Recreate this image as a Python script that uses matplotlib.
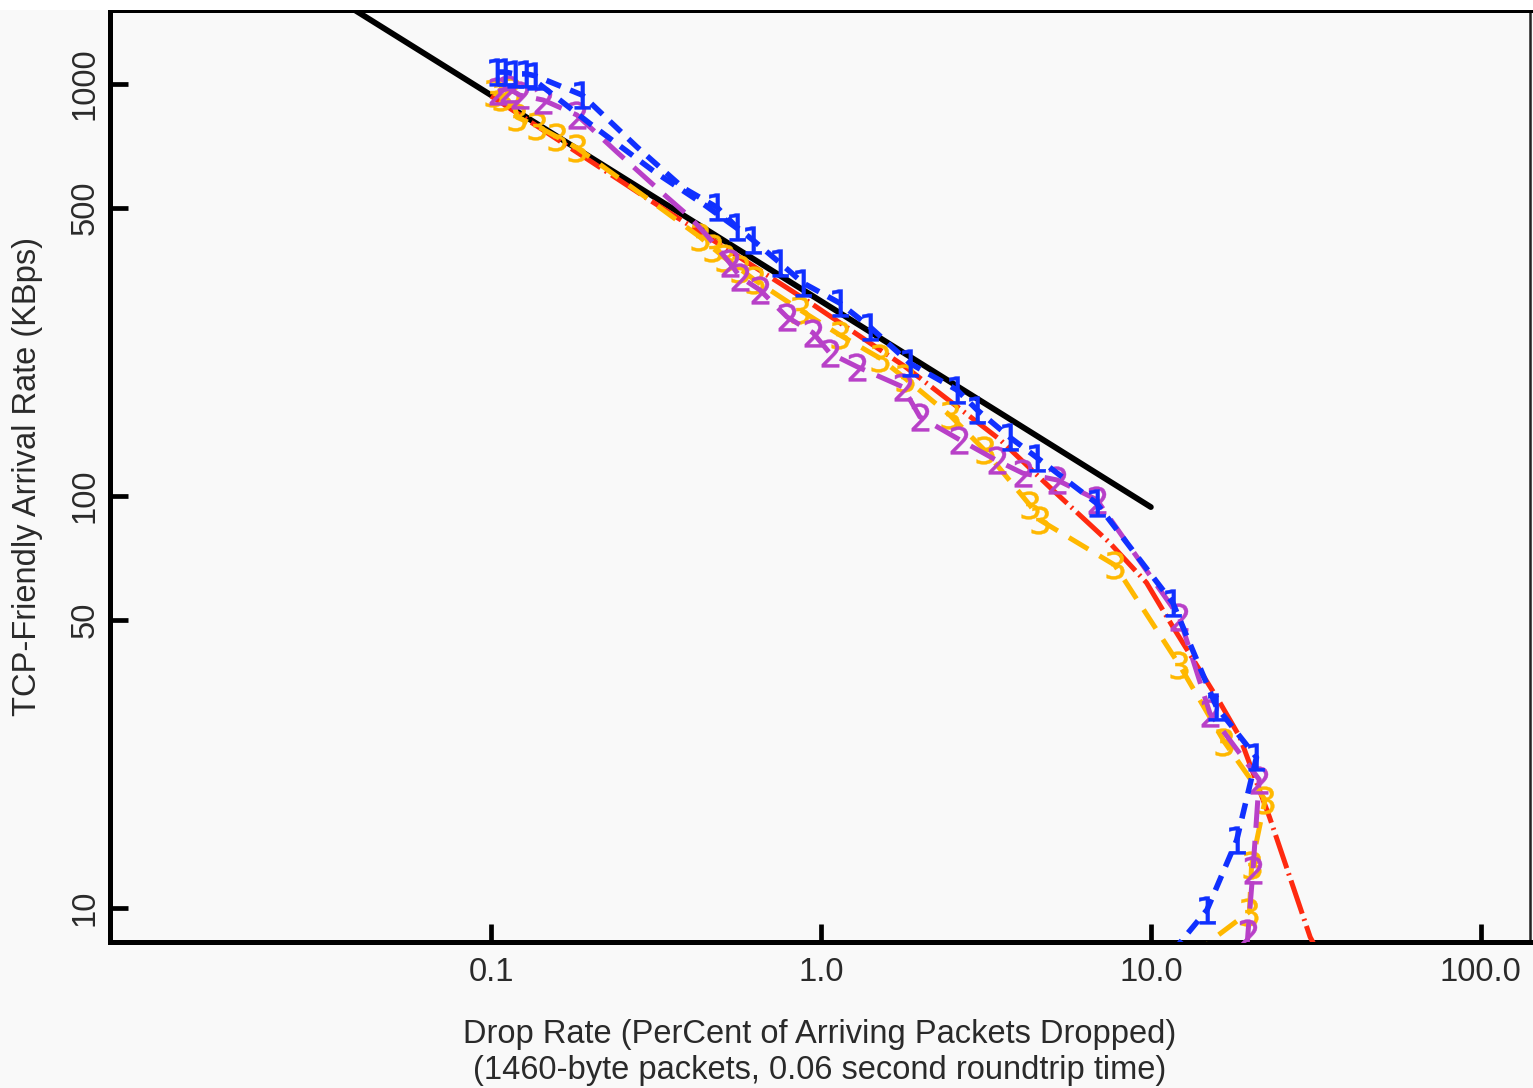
"""
TCP-friendly arrival rate vs drop rate, log-log.
"""
import matplotlib
matplotlib.use('Agg')
import matplotlib.pyplot as plt
from matplotlib.patches import Rectangle

plt.rcParams['font.family'] = ['Liberation Sans', 'DejaVu Sans']

# simple TCP formula (straight line on log-log)
tcp_x = [0.03, 10.0]
tcp_y = [1715, 94]

# fuller formula with timeouts
full_x = [0.1, 0.2, 0.3, 0.5, 0.93, 1.8, 3.49, 4.94, 7.5, 9.7, 11.65, 16.2, 18.6, 22.9, 30.4, 33.0]
full_y = [935, 650, 525, 405, 294, 206, 137, 105, 77, 61.6, 48.2, 31.5, 26.0, 16.6, 8.5, 7.5]

# run 1 (blue)
run1_x = [0.104, 0.110, 0.118, 0.128, 0.136, 0.189, 0.277, 0.382, 0.484, 0.556, 0.622, 0.751,
          0.882, 1.14, 1.41, 1.86, 2.58, 2.97, 3.73, 4.51, 6.85, 11.66, 15.8, 20.9, 18.2, 14.8,
          12.2, 11.5]
run1_y = [1069, 1069, 1058, 1058, 1047, 940, 703, 560, 502, 449, 418, 368,
          329, 294, 257, 210, 181, 162, 139, 124, 96, 55, 30.8, 23.2, 14.6, 9.9,
          8.2, 7.6]
run1_marks = [0, 1, 2, 3, 4, 5, 8, 9, 10, 11, 12, 13, 14, 15, 16, 17, 18, 19, 20, 21, 22, 23, 24, 25]

run1b_x = [0.14, 0.2, 0.314, 0.445, 0.56]
run1b_y = [1000, 800, 611, 508, 445]

# run 2 (magenta)
run2_x = [0.105, 0.113, 0.122, 0.144, 0.182, 0.241, 0.341, 0.401, 0.45, 0.529, 0.569, 0.654,
          0.789, 0.946, 1.065, 1.286, 1.77, 1.995, 2.63, 3.41, 4.09, 5.19, 6.85, 12.2,
          15.1, 21.3, 20.4, 19.7, 19.5]
run2_y = [960, 975, 940, 914, 841, 683, 532, 475, 430, 368, 340, 316,
          272, 249, 222, 206, 184, 155.6, 137, 122, 113.6, 109.4, 98, 50.8,
          29.7, 20.5, 12.4, 8.7, 7.8]
run2_marks = [0, 1, 2, 3, 4, 9, 10, 11, 12, 13, 14, 15, 16, 17, 18, 19, 20, 21, 22, 23, 24, 25, 26, 27]

# run 3 (orange)
run3_x = [0.102, 0.108, 0.115, 0.120, 0.138, 0.158, 0.182, 0.3, 0.430, 0.470, 0.512, 0.57,
          0.631, 0.864, 1.14, 1.51, 1.80, 2.46, 3.14, 4.30, 4.61, 7.77, 12.2, 16.7, 22.2,
          20.2, 19.9, 15.1, 14.0]
run3_y = [950, 930, 960, 830, 790, 745, 700, 525, 425, 400, 378, 355,
          334, 283, 246, 216, 193, 157, 129, 95, 87.4, 68, 38.9, 25.3, 18.3,
          12.7, 9.8, 8.3, 7.6]
run3_marks = [0, 1, 2, 3, 4, 5, 6, 8, 9, 10, 11, 12, 13, 14, 15, 16, 17, 18, 19, 20, 21, 22, 23, 24, 25, 26]

xticks = [0.1, 1.0, 10.0, 100.0]
xticklabels = ['0.1', '1.0', '10.0', '100.0']
yticks = [10, 50, 100, 500, 1000]
yticklabels = ['10', '50', '100', '500', '1000']

BLUE = '#1030ff'
MAGENTA = '#b840c8'
ORANGE = '#ffb800'
RED = '#ff2a10'
TXT = '#2a2a2a'
FS = 23.5

fig = plt.figure(figsize=(15.33, 10.88), dpi=100, facecolor='#f9f9f9')
ax = fig.add_axes([110 / 1533, 146 / 1088, 1420 / 1533, 932 / 1088])
ax.set_facecolor('#f9f9f9')
fig.add_artist(Rectangle((0, 1 - 10 / 1088), 1, 10 / 1088, transform=fig.transFigure,
                         facecolor='white', edgecolor='none'))

ax.plot(tcp_x, tcp_y, color='black', lw=4.2, solid_capstyle='round', zorder=2)

l, = ax.plot(full_x, full_y, color=RED, lw=3.6, zorder=3)
l.set_dashes([7, 1.1, 0.4, 1.1])

l, = ax.plot(run3_x, run3_y, color=ORANGE, lw=3.6, marker='$3$', ms=20,
             markevery=run3_marks, mew=0.3, zorder=4)
l.set_dashes([4.5, 2.6])

l, = ax.plot(run2_x, run2_y, color=MAGENTA, lw=3.6, marker='$2$', ms=20,
             markevery=run2_marks, mew=0.3, zorder=5)
l.set_dashes([5.5, 2.6])

l, = ax.plot(run1b_x, run1b_y, color=BLUE, lw=4.0, zorder=6)
l.set_dashes([2.8, 1.8])
l, = ax.plot(run1_x, run1_y, color=BLUE, lw=4.0, marker='$1$', ms=20,
             markevery=run1_marks, mew=0.3, zorder=6)
l.set_dashes([2.8, 1.8])

ax.set_xscale('log')
ax.set_yscale('log')
ax.set_xlim(0.007, 141)
ax.set_ylim(8.27, 1512)
ax.minorticks_off()
ax.set_xticks(xticks)
ax.set_xticklabels(xticklabels)
ax.set_yticks(yticks)
ax.set_yticklabels(yticklabels, rotation=90, va='center')

for side in ['left', 'bottom', 'top']:
    ax.spines[side].set_linewidth(3.6)
    ax.spines[side].set_color('black')
ax.spines['right'].set_linewidth(1.8)
ax.spines['right'].set_color('#222222')

ax.tick_params(direction='in', length=13, width=3.4, labelsize=FS, labelcolor=TXT,
               top=False, right=False)
ax.tick_params(axis='x', pad=11)
ax.tick_params(axis='y', pad=7)

ax.set_xlabel('Drop Rate (PerCent of Arriving Packets Dropped)\n'
              '(1460-byte packets, 0.06 second roundtrip time)',
              fontsize=FS, color=TXT, labelpad=22, linespacing=1.2)
ax.set_ylabel('TCP-Friendly Arrival Rate (KBps)', fontsize=FS, color=TXT, labelpad=19)

fig.savefig('out.png', dpi=100, facecolor=fig.get_facecolor())
